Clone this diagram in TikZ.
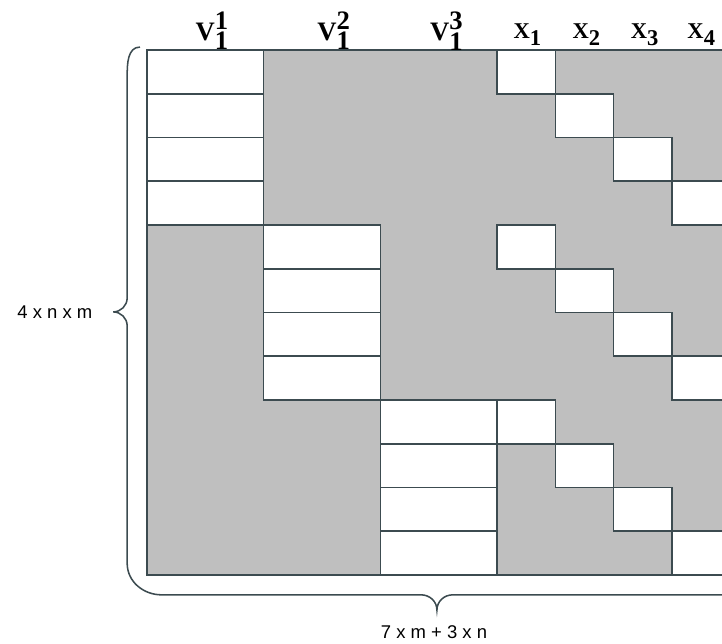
\documentclass[tikz,border=0pt]{standalone}
\usepackage{fontspec}
\setmainfont{Liberation Serif}
\newfontfamily\sanslabel{Liberation Sans}
\definecolor{linegray}{RGB}{60,75,80}
\definecolor{cellgray}{RGB}{191,191,191}
\tikzset{
  cell/.style={fill=white, draw=linegray, line width=0.75pt},
  edge/.style={draw=linegray, line width=0.75pt},
  vlabel/.style={anchor=base, font=\fontsize{13}{15}\selectfont},
  xlabel/.style={anchor=base, font=\fontsize{11}{13}\selectfont},
  dimlabel/.style={font=\sanslabel\fontsize{9}{11}\selectfont},
}
\begin{document}
\begin{tikzpicture}[scale=1]
    \clip (-2.52,0.857) rectangle (9.857,-10.166);

    % 行列全体(灰色)
    \fill[cellgray] (0,0) rectangle (10,-9);

    % V_1^1 のブロック
    \draw[cell] (0,0) rectangle (2,-0.75) (0,-0.75) rectangle (2,-1.5)
                (0,-1.5) rectangle (2,-2.25) (0,-2.25) rectangle (2,-3);
    % V_1^2 のブロック
    \draw[cell] (2,-3) rectangle (4,-3.75) (2,-3.75) rectangle (4,-4.5)
                (2,-4.5) rectangle (4,-5.25) (2,-5.25) rectangle (4,-6);
    % V_1^3 のブロック
    \draw[cell] (4,-6) rectangle (6,-6.75) (4,-6.75) rectangle (6,-7.5)
                (4,-7.5) rectangle (6,-8.25) (4,-8.25) rectangle (6,-9);

    % X の対角(3 回)
    \draw[cell] (6,0) rectangle (7,-0.75) (7,-0.75) rectangle (8,-1.5)
                (8,-1.5) rectangle (9,-2.25) (9,-2.25) rectangle (10,-3);
    \draw[cell] (6,-3) rectangle (7,-3.75) (7,-3.75) rectangle (8,-4.5)
                (8,-4.5) rectangle (9,-5.25) (9,-5.25) rectangle (10,-6);
    \draw[cell] (6,-6) rectangle (7,-6.75) (7,-6.75) rectangle (8,-7.5)
                (8,-7.5) rectangle (9,-8.25) (9,-8.25) rectangle (10,-9);

    % 外枠
    \draw[edge] (10,0) -- (0,0) -- (0,-9) -- (10,-9);

    % 列の見出し
    \node[vlabel] (lblvA) at (1.12,0.17) {$\textbf{V}^{\textbf{1}}_{\textbf{1}}$};
    \node[vlabel] (lblvB) at (3.21,0.17) {$\textbf{V}^{\textbf{2}}_{\textbf{1}}$};
    \node[vlabel] (lblvC) at (5.14,0.17) {$\textbf{V}^{\textbf{3}}_{\textbf{1}}$};
    \node[xlabel] (lblxA) at (6.53,0.2) {$\textbf{X}_{\textbf{1}}$};
    \node[xlabel] (lblxB) at (7.54,0.2) {$\textbf{X}_{\textbf{2}}$};
    \node[xlabel] (lblxC) at (8.54,0.2) {$\textbf{X}_{\textbf{3}}$};
    \node[xlabel] (lblxD) at (9.51,0.2) {$\textbf{X}_{\textbf{4}}$};

    % 左と下の括弧
    \draw[edge] (-0.12,0.05) to[out=180,in=90] (-0.34,-0.45) -- (-0.34,-4.25)
        to[out=-90,in=0] (-0.58,-4.49) to[out=0,in=90] (-0.34,-4.73) -- (-0.34,-8.8)
        to[out=-90,in=180] (0.25,-9.34) -- (4.7,-9.34)
        to[out=0,in=90] (4.97,-9.6) to[out=90,in=180] (5.24,-9.34) -- (10.5,-9.34);

    % 括弧のラベル
    \node[dimlabel] (lblrows) at (-1.58,-4.49) {4 x n x m};
    \node[dimlabel] (lblcols) at (4.92,-9.98) {7 x m + 3 x n};
\end{tikzpicture}
\end{document}
